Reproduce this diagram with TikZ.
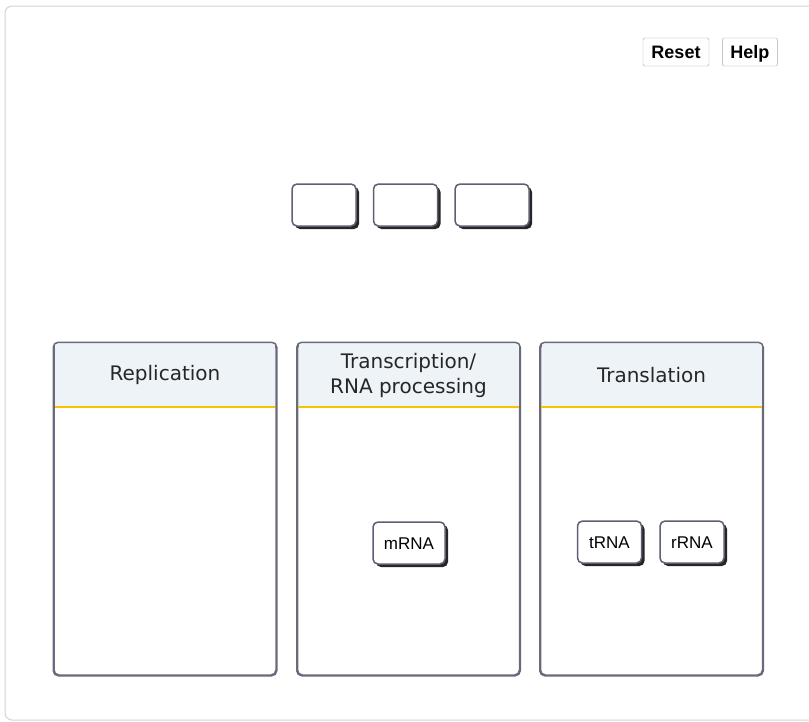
\documentclass[tikz,border=0pt]{standalone}
\usepackage{fontspec}
\setmainfont{Liberation Sans}
\newfontfamily\headfont{DejaVu Sans}
\usetikzlibrary{positioning, shadows}

\definecolor{chipedge}{HTML}{5E5E74}
\definecolor{panedge}{HTML}{6A6A7C}
\definecolor{headfill}{HTML}{EEF3F8}
\definecolor{headline}{HTML}{F5C400}

\begin{document}
\begin{tikzpicture}[x=1pt, y=-1pt,
        chip/.style={rectangle, draw=chipedge, line width=1.5pt, rounded corners=5pt,
                     fill=white, minimum height=42pt, inner sep=0pt,
                     text height=12pt, text depth=0pt,
                     font=\fontsize{17}{20}\selectfont,
                     general shadow={fill=black!85, shadow xshift=3pt, shadow yshift=-3pt}},
        tool/.style={rectangle, draw=gray!70, rounded corners=2pt, fill=white,
                     minimum height=28pt, inner sep=0pt,
                     text height=13pt, text depth=0pt,
                     font=\fontsize{18}{20}\selectfont\bfseries},
        panel/.style={rectangle, draw=panedge, line width=1.5pt, rounded corners=5pt,
                      minimum width=222pt, minimum height=332pt},
        header/.style={rectangle, fill=headfill, minimum width=220pt, minimum height=64pt,
                       align=center, inner sep=0pt, text=black!85,
                       font=\headfont\fontsize{20}{25}\selectfont},
        node distance=16pt]
      \useasboundingbox (0,0) rectangle (809,721);
      % outer frame
      \draw[gray!35, line width=1pt, rounded corners=7pt] (5,6) rectangle (816,720);

      % top right buttons
      \node[tool, minimum width=66pt] (reset) at (676,52) {Reset};
      \node[tool, minimum width=55pt, right=13pt of reset] (help) {Help};

      % empty slots for dragging
      \node[chip, minimum width=64pt] (slot1) at (324,205) {};
      \node[chip, minimum width=64pt, right=of slot1] (slot2) {};
      \node[chip, minimum width=74pt, right=of slot2] (slot3) {};

      % the three bins
      \node[panel] (rep) at (165,509) {};
      \node[panel] (tsc) at (408.5,509) {};
      \node[panel] (tsl) at (651.5,509) {};
      \node[header, below=0.75pt of rep.north] (rephead) {Replication};
      \node[header, below=0.75pt of tsc.north] (tschead) {Transcription/\\RNA processing};
      \node[header, below=0.75pt of tsl.north] (tslhead) {Translation};
      \draw[headline, line width=2pt] (rephead.south west) -- (rephead.south east);
      \draw[headline, line width=2pt] (tschead.south west) -- (tschead.south east);
      \draw[headline, line width=2pt] (tslhead.south west) -- (tslhead.south east);
      \draw[panedge, line width=1.5pt, rounded corners=5pt] (rep.north west) rectangle (rep.south east);
      \draw[panedge, line width=1.5pt, rounded corners=5pt] (tsc.north west) rectangle (tsc.south east);
      \draw[panedge, line width=1.5pt, rounded corners=5pt] (tsl.north west) rectangle (tsl.south east);

      % RNA chips already sorted
      \node[chip, minimum width=72pt] (mrna) at (409,543) {mRNA};
      \node[chip, minimum width=64pt] (trna) at (609.5,542) {tRNA};
      \node[chip, minimum width=64pt, right=17pt of trna] (rrna) {rRNA};
    \end{tikzpicture}
\end{document}
